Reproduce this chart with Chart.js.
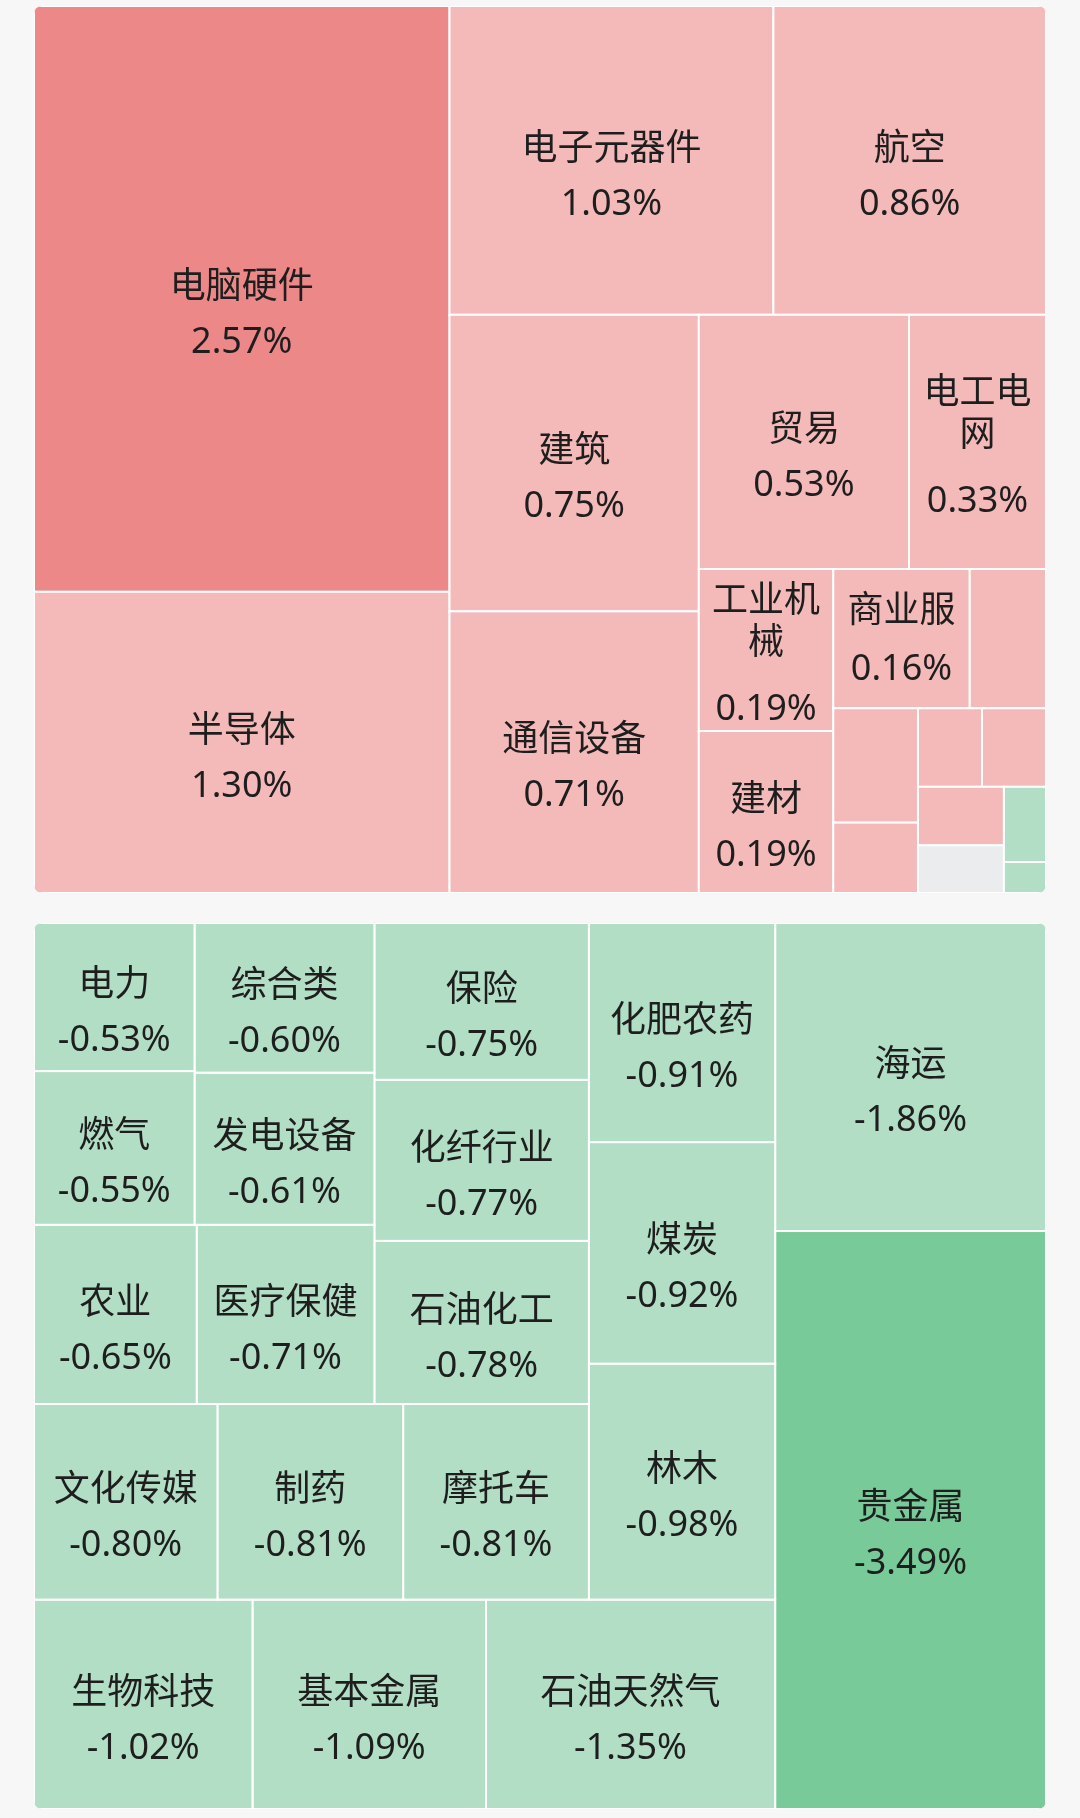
<!DOCTYPE html>
<html>
<head>
<meta charset="utf-8">
<script src="https://cdn.jsdelivr.net/npm/chart.js@4.4.1/dist/chart.umd.min.js"></script>
<style>
  html, body { margin: 0; padding: 0; background: #f7f7f7; }
  body { width: 1080px; height: 1818px; position: relative; overflow: hidden; }
  canvas { position: absolute; left: 0; }
  #upChart { top: 0; }
  #downChart { top: 917px; }
</style>
</head>
<body>
<canvas id="upChart" width="1080" height="900"></canvas>
<canvas id="downChart" width="1080" height="900"></canvas>
<script>
// 上涨板块（上方面板），最后几个小格子在图上没有文字
const upNames = ['电脑硬件', '半导体', '电子元器件', '航空', '建筑', '通信设备', '贸易', '电工电网',
    '工业机械', '建材', '商业服务', '其他1', '其他2', '其他3', '其他4', '其他5', '其他6', '其他7', '其他8', '其他9'];
const upChanges = [2.57, 1.30, 1.03, 0.86, 0.75, 0.71, 0.53, 0.33,
    0.19, 0.19, 0.16, 0.07, 0.06, 0.02, 0.01, 0.01, 0.01, 0.00, -0.01, -0.03];

// 下跌板块（下方面板）
const downNames = ['贵金属', '海运', '石油天然气', '基本金属', '生物科技', '林木', '煤炭', '化肥农药',
    '摩托车', '制药', '文化传媒', '石油化工', '化纤行业', '保险', '医疗保健', '农业', '发电设备', '综合类', '燃气', '电力'];
const downChanges = [-3.49, -1.86, -1.35, -1.09, -1.02, -0.98, -0.92, -0.91,
    -0.81, -0.81, -0.80, -0.78, -0.77, -0.75, -0.71, -0.65, -0.61, -0.60, -0.55, -0.53];

// 上方面板的面积 = 涨幅 + 偏移（平盘/微跌的格子也有面积）
const UP_OFFSET = 0.044;
const SQUARE_RATIO = 0.925;

function cellColor(v) {
    if (v >= 2) return '#ED8889';
    if (v > 0) return '#F4B9B9';
    if (v === 0) return '#EBECEE';
    if (v > -2) return '#B2DEC5';
    return '#78CA99';
}

function worst(row, fixed, ratio) {
    let max = 0, min = Infinity;
    row.forEach(n => {
        if (n.area) {
            if (n.area < min) min = n.area;
            if (n.area > max) max = n.area;
        }
    });
    const sq = row.area * row.area;
    const f = fixed * fixed * ratio;
    return sq ? Math.max(f * max / sq, sq / (f * min)) : Infinity;
}

function position(row, fixed, rect, flush) {
    const horiz = fixed === rect.width;
    let other = fixed ? row.area / fixed : 0;
    const room = horiz ? rect.height : rect.width;
    if (flush || other > room) other = room;
    let last = horiz ? rect.x : rect.y;
    const end = horiz ? rect.x + rect.width : rect.y + rect.height;
    row.forEach((n, k) => {
        let len = other ? n.area / other : 0;
        if (k === row.length - 1) len = end - last;
        if (horiz) { n.x = last; n.y = rect.y; n.w = len; n.h = other; }
        else { n.x = rect.x; n.y = last; n.w = other; n.h = len; }
        last += len;
    });
    if (horiz) { rect.y += other; rect.height -= other; }
    else { rect.x += other; rect.width -= other; }
}

// 方形化树图布局（像素空间），返回 0..1 的比例坐标
function squarify(weights, w, h, flip) {
    const total = weights.reduce((s, v) => s + v, 0);
    const nodes = weights.map((v, i) => ({ i: i, area: v * w * h / total }));
    nodes.sort((a, b) => b.area - a.area);
    const rect = { x: 0, y: 0, width: w, height: h };
    let fixed = Math.min(w, h);
    let best = Infinity;
    let row = []; row.area = 0;
    for (let i = 0; i < nodes.length;) {
        row.push(nodes[i]);
        row.area += nodes[i].area;
        const score = worst(row, fixed, SQUARE_RATIO);
        if (score <= best) {
            i++;
            best = score;
        } else {
            row.area -= row.pop().area;
            position(row, fixed, rect, false);
            fixed = Math.min(rect.width, rect.height);
            row = []; row.area = 0;
            best = Infinity;
        }
    }
    if (row.length) position(row, fixed, rect, true);

    return nodes.map(n => {
        let u0 = n.x / w, u1 = (n.x + n.w) / w, v0 = n.y / h, v1 = (n.y + n.h) / h;
        if (flip) { [u0, u1] = [1 - u1, 1 - u0]; [v0, v1] = [1 - v1, 1 - v0]; }
        return { i: n.i, u0, u1, v0, v1 };
    });
}

function wrapName(ctx, name, maxW) {
    const lines = [];
    let cur = '';
    for (const ch of name) {
        if (cur && ctx.measureText(cur + ch).width > maxW) { lines.push(cur); cur = ch; }
        else cur += ch;
    }
    if (cur) lines.push(cur);
    return lines;
}

function makeTreemap(canvasId, names, changes, weights, flip, pad) {
    const treemapPlugin = {
        id: 'treemapCells',
        afterDatasetsDraw(chart) {
            const { ctx, chartArea: area, scales: { x, y } } = chart;
            const cells = squarify(weights, area.width, area.height, flip);
            ctx.save();
            ctx.beginPath();
            ctx.roundRect(area.left, area.top, area.width, area.height, 8);
            ctx.clip();

            cells.forEach(c => {
                const x0 = x.getPixelForValue(c.u0), x1 = x.getPixelForValue(c.u1);
                const y0 = y.getPixelForValue(c.v0), y1 = y.getPixelForValue(c.v1);
                ctx.fillStyle = cellColor(changes[c.i]);
                ctx.fillRect(x0, y0, x1 - x0, y1 - y0);
                ctx.strokeStyle = '#ffffff';
                ctx.lineWidth = 2;
                ctx.strokeRect(x0, y0, x1 - x0, y1 - y0);
            });

            ctx.font = '36px "Noto Sans", "Noto Sans CJK SC", sans-serif';
            ctx.fillStyle = '#1e1e1e';
            ctx.textAlign = 'center';
            ctx.textBaseline = 'middle';
            cells.forEach(c => {
                const x0 = x.getPixelForValue(c.u0), x1 = x.getPixelForValue(c.u1);
                const y0 = y.getPixelForValue(c.v0), y1 = y.getPixelForValue(c.v1);
                const w = x1 - x0, h = y1 - y0;
                if (w < 100 || h < 100) return;
                const cx = (x0 + x1) / 2, cy = (y0 + y1) / 2;
                let lines = wrapName(ctx, names[c.i], w - 10);
                let nameY, pctY;
                if (lines.length === 1) {
                    nameY = [cy - 11]; pctY = cy + 44;
                } else if (h >= 150) {
                    lines = lines.slice(0, 2);
                    nameY = [cy - 48, cy - 6]; pctY = cy + 60;
                } else {
                    lines = [lines[0]];
                    nameY = [cy - 27]; pctY = cy + 31;
                }
                lines.forEach((t, k) => ctx.fillText(t, cx, nameY[k]));
                ctx.fillText(changes[c.i].toFixed(2) + '%', cx, pctY);
            });
            ctx.restore();
        }
    };

    return new Chart(document.getElementById(canvasId), {
        type: 'scatter',
        data: { datasets: [{ label: 'treemap', data: [] }] },
        options: {
            responsive: false,
            animation: false,
            devicePixelRatio: 1,
            layout: { padding: pad },
            scales: {
                x: { type: 'linear', min: 0, max: 1, display: false },
                y: { type: 'linear', min: 0, max: 1, reverse: true, display: false }
            },
            plugins: { legend: { display: false }, tooltip: { enabled: false } }
        },
        plugins: [treemapPlugin]
    });
}

const upWeights = upChanges.map(v => v + UP_OFFSET);
const downWeights = downChanges.map(v => Math.abs(v));

makeTreemap('upChart', upNames, upChanges, upWeights, false, { left: 34, right: 34, top: 6, bottom: 7 });
makeTreemap('downChart', downNames, downChanges, downWeights, true, { left: 34, right: 34, top: 6, bottom: 8 });
</script>
</body>
</html>
